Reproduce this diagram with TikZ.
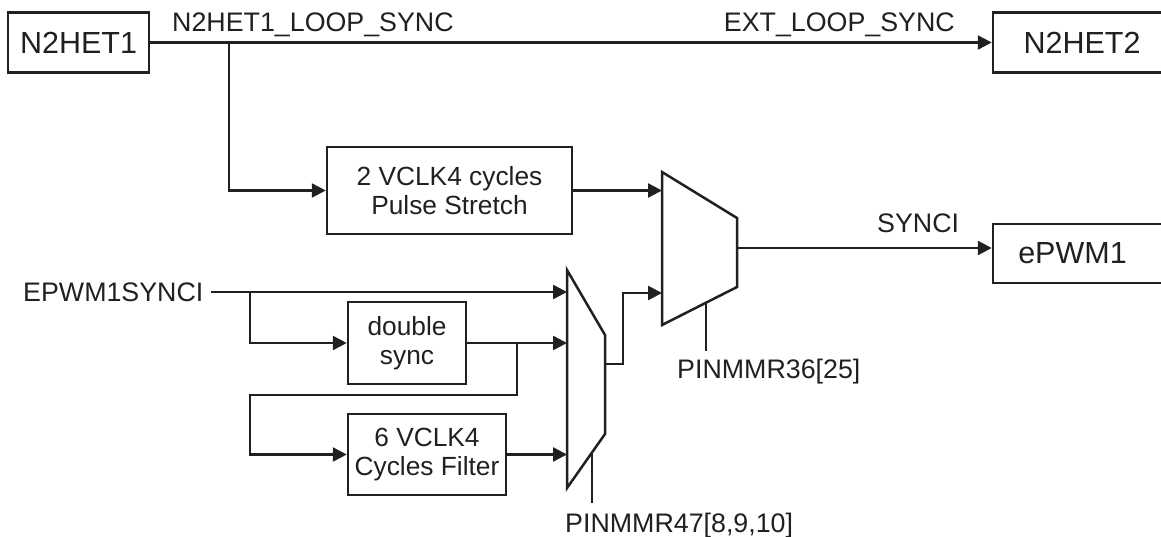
\documentclass[tikz,border=0pt]{standalone}
\usepackage{fontspec}
\setmainfont{Liberation Sans}
\usetikzlibrary{arrows.meta}
\definecolor{ink}{RGB}{35,31,32}
\begin{document}
\begin{tikzpicture}[x=1pt,y=-1pt,
  wire/.style={draw=ink, line width=2.5pt},
  arr/.style={wire, -{Triangle[length=14pt,width=14pt]}},
  box/.style={draw=ink, line width=2.5pt, inner sep=0pt, text=ink, align=center,
              font=\fontsize{26.3}{28.5}\selectfont},
  big/.style={box, font=\fontsize{30.5}{34}\selectfont},
  lbl/.style={inner sep=0pt, text=ink, font=\fontsize{26.8}{29}\selectfont}]
\useasboundingbox (0,0) rectangle (1161,537);
\clip (0,0) rectangle (1161,537);

% boxes
\node[big, minimum width=141pt, minimum height=60pt] (het1) at (78.5,42.5) {N2HET1};
\node[big, minimum width=178pt, minimum height=60pt] (het2) at (1082,42.5) {N2HET2};
\node[big, minimum width=178pt, minimum height=59pt] (epwm) at (1082,253.5) {\hspace*{-19pt}ePWM1};
\node[box, minimum width=245pt, minimum height=87pt] (ps) at (449.5,190.5) {2 VCLK4 cycles\\Pulse Stretch};
\node[box, minimum width=118pt, minimum height=82pt] (ds) at (407,343) {double\\sync};
\node[box, minimum width=158pt, minimum height=81pt] (filt) at (427,454.5) {6 VCLK4\\Cycles Filter};

% multiplexers
\draw[wire] (662,172) -- (737,218) -- (737,287) -- (662,325) -- cycle;
\draw[wire] (567,270) -- (605,335) -- (605,434) -- (567,488) -- cycle;
\coordinate (m1in1) at (662,190.5);
\coordinate (m1in2) at (662,293);
\coordinate (m1out) at (737,248);
\coordinate (m1sel) at (706,302.7);
\coordinate (m1selend) at (706,351);
\coordinate (m2in1) at (567,292);
\coordinate (m2in2) at (567,343);
\coordinate (m2in3) at (567,454.5);
\coordinate (m2out) at (605,364);
\coordinate (m2sel) at (592,452.5);
\coordinate (m2selend) at (592,503);

% labels
\node[lbl, anchor=base west] (lsync) at (172,32) {N2HET1\_LOOP\_SYNC};
\node[lbl, anchor=base east] (lext) at (955,32) {EXT\_LOOP\_SYNC};
\node[lbl, anchor=base west] (lsynci) at (877,233) {SYNCI};
\node[lbl, anchor=base west] (lpm36) at (677,378) {PINMMR36[25]};
\node[lbl, anchor=base west] (lpm47) at (565,532) {PINMMR47[8,9,10]};
\node[lbl, anchor=base west] (epin) at (23,301) {EPWM1SYNCI};

% connectors
\coordinate (br1) at (229,42.5);
\coordinate (epstart) at (211,292);
\coordinate (br2) at (250,292);
\coordinate (br3) at (517,343);
\coordinate (loopc) at (250,395);
\coordinate (m2up) at (623,293);

\draw[arr] (het1.east) -- (het2.west);
\draw[arr] (br1) |- (ps.west);
\draw[arr] (ps.east) -- (m1in1);
\draw[arr] (m1out) -- (m1out -| epwm.west);
\draw[wire] (m1sel) -- (m1selend);
\draw[wire] (m2sel) -- (m2selend);
\draw[arr] (epstart) -- (m2in1);
\draw[arr] (br2) |- (ds.west);
\draw[arr] (ds.east) -- (m2in2);
\draw[arr] (br3) |- (loopc) |- (filt.west);
\draw[arr] (filt.east) -- (m2in3);
\draw[arr] (m2out) -| (m2up) -- (m1in2);
\end{tikzpicture}
\end{document}
